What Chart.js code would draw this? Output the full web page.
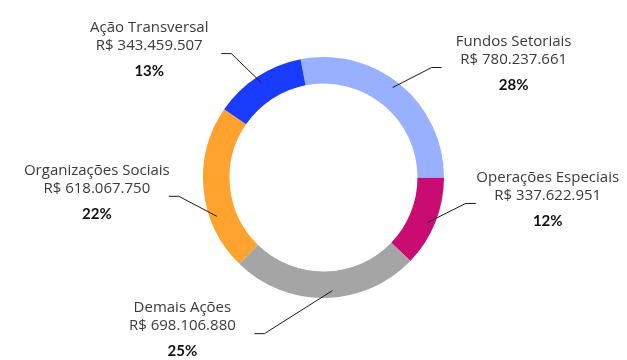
<!DOCTYPE html>
<html>
<head>
<meta charset="utf-8">
<script src="https://cdn.jsdelivr.net/npm/chart.js@4"></script>
<style>
  html, body { margin: 0; padding: 0; background: #fff; }
  #wrap { width: 627px; height: 360px; }
</style>
</head>
<body>
<div id="wrap"><canvas id="c" width="627" height="360"></canvas></div>
<script>
// Orçamento por categoria (R$)
const categories = ['Fundos Setoriais', 'Operações Especiais', 'Demais Ações', 'Organizações Sociais', 'Ação Transversal'];
const amounts = [780237661, 337622951, 698106880, 618067750, 343459507];
const amountLabels = ['R$ 780.237.661', 'R$ 337.622.951', 'R$ 698.106.880', 'R$ 618.067.750', 'R$ 343.459.507'];
const percentLabels = ['28%', '12%', '25%', '22%', '13%'];
const colors = ['#99AFFF', '#C80C72', '#A5A5A5', '#FFA22E', '#1A3CFF'];

// Leader line layout: where on the slice the line starts (fraction of the arc),
// the elbow offset from that point, and the horizontal tail direction.
const leaderFrac = [0.48, 0.53, 0.46, 0.32, 0.50];
const elbowOffset = [[39, -20], [38, -19], [-68, 43], [-38, -20], [-30, -29]];
const tailDir = [1, 1, -1, -1, -1];

const calloutPlugin = {
  id: 'callouts',
  afterDatasetsDraw(chart) {
    const ctx = chart.ctx;
    const meta = chart.getDatasetMeta(0);
    meta.data.forEach((arc, i) => {
      const p = arc.getProps(['x', 'y', 'startAngle', 'endAngle', 'innerRadius', 'outerRadius'], true);
      const a = p.startAngle + (p.endAngle - p.startAngle) * leaderFrac[i];
      const r = p.outerRadius - 7;
      const px = p.x + Math.cos(a) * r;
      const py = p.y + Math.sin(a) * r;
      const ex = px + elbowOffset[i][0];
      const ey = py + elbowOffset[i][1];
      const tx = ex + tailDir[i] * 10;

      ctx.save();
      ctx.strokeStyle = '#1a1a1a';
      ctx.lineWidth = 1;
      ctx.beginPath();
      ctx.moveTo(px, py);
      ctx.lineTo(ex, ey);
      ctx.lineTo(tx, ey);
      ctx.stroke();

      const cx = tx + tailDir[i] * 72;
      const ty = ey - 26;
      ctx.textAlign = 'center';
      ctx.textBaseline = 'middle';
      ctx.fillStyle = '#3a3a3a';
      ctx.font = '15px "Open Sans", Lato, sans-serif';
      ctx.fillText(categories[i], cx, ty);
      ctx.fillText(amountLabels[i], cx, ty + 18);
      ctx.fillStyle = '#111111';
      ctx.font = 'bold 15px Lato, "Open Sans", sans-serif';
      ctx.fillText(percentLabels[i], cx, ty + 44);
      ctx.restore();
    });
  }
};

new Chart(document.getElementById('c'), {
  type: 'doughnut',
  data: {
    labels: categories,
    datasets: [{
      data: amounts,
      backgroundColor: colors,
      borderWidth: 0,
      hoverOffset: 0
    }]
  },
  options: {
    responsive: false,
    animation: false,
    cutout: '78%',
    rotation: -11,
    layout: { padding: { top: 57, bottom: 62, left: 203, right: 183 } },
    plugins: {
      legend: { display: false },
      tooltip: { enabled: false }
    }
  },
  plugins: [calloutPlugin]
});
</script>
</body>
</html>
